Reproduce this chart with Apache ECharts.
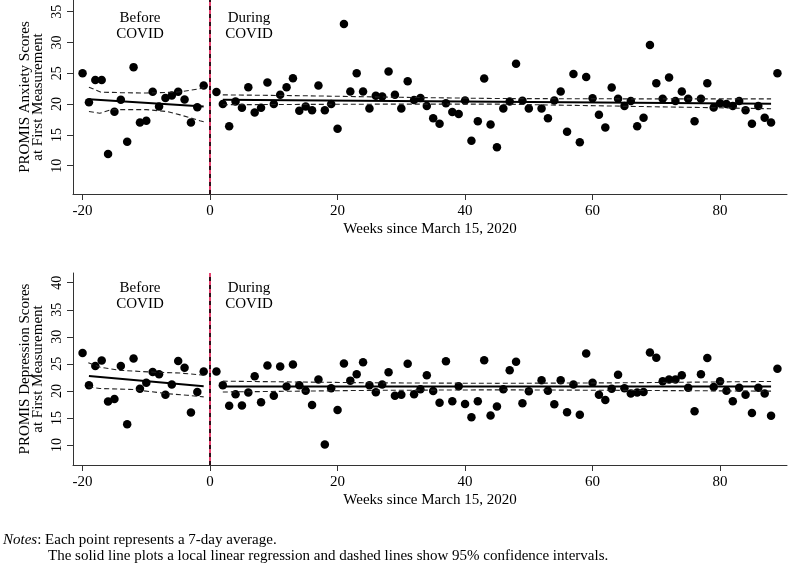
<!DOCTYPE html>
<html>
<head>
<meta charset="utf-8">
<script src="https://cdn.jsdelivr.net/npm/echarts@6/dist/echarts.min.js"></script>
<style>html,body{margin:0;padding:0;background:#fff;}#c{width:790px;height:565px;}</style>
</head>
<body>
<div id="c"></div>
<script>
// ---- DATA ----
const weeksBefore = [-20,-19,-18,-17,-16,-15,-14,-13,-12,-11,-10,-9,-8,-7,-6,-5,-4,-3,-2,-1];
const weeksDuring = [1,2,3,4,5,6,7,8,9,10,11,12,13,14,15,16,17,18,19,20,21,22,23,24,25,26,27,28,29,30,
  31,32,33,34,35,36,37,38,39,40,41,42,43,44,45,46,47,48,49,50,52,53,54,55,56,57,58,59,60,
  61,62,63,64,65,66,67,68,69,70,71,72,73,74,75,76,77,78,79,80,81,82,83,84,85,86,87,88,89];

const anxietyBefore = [25.0,20.3,23.9,23.9,11.9,18.75,20.7,13.9,26.0,17.0,17.3,22.0,19.6,21.0,21.4,22.0,20.75,17.0,19.5,23.0];
const anxietyDuring = [21.95,20.0,16.4,20.4,19.4,22.75,18.65,19.4,23.5,20.0,21.5,22.75,24.2,18.9,19.6,19.0,23.0,19.0,20.0,16.0,
  33.0,22.05,25.0,22.05,19.3,21.35,21.25,25.3,21.5,19.3,23.7,20.65,21.0,19.7,17.7,16.8,20.15,18.7,18.4,20.6,
  14.05,17.2,24.15,16.7,13.0,19.3,20.4,26.55,20.55,19.3,19.3,17.7,20.6,22.05,15.5,24.9,13.8,24.4,20.95,
  18.25,16.2,22.7,20.85,19.7,20.5,16.4,17.8,29.6,23.4,20.85,24.3,20.5,22.05,20.85,17.2,20.85,23.4,19.45,20.15,
  20.0,19.7,20.5,19.0,16.8,19.7,17.8,17.0,25.0];

const depressionBefore = [27.0,21.05,24.6,25.6,18.05,18.5,24.6,13.85,26.0,20.4,21.5,23.5,23.1,19.3,21.2,25.55,24.3,16.0,19.8,23.6];
const depressionDuring = [23.6,21.05,17.25,19.4,17.3,19.7,22.7,17.9,24.7,19.1,24.5,20.8,24.9,21.05,20.05,17.4,22.1,10.1,20.5,16.45,
  25.05,21.9,23.1,25.3,21.05,19.75,21.2,23.45,19.1,19.3,25.0,19.4,20.3,22.9,20.0,17.8,25.5,18.1,20.85,17.6,
  15.15,18.1,25.65,15.45,17.1,20.3,23.8,25.4,17.7,19.95,21.95,20.05,17.55,21.95,16.05,21.2,15.6,26.9,21.5,
  19.3,18.3,20.4,23.0,20.5,19.5,19.7,19.8,27.1,26.15,21.8,22.1,22.1,22.9,20.6,16.25,23.1,26.1,20.7,21.8,
  20.05,18.1,20.6,19.3,15.9,20.6,19.5,15.4,24.1];

// local linear fits and 95% CI
const anxFitBeforeX = [-19,-1];            const anxFitBeforeY = [20.8,19.6];
const anxUpBeforeX = [-19,-17.2,-14,-10,-5,-1.6,-0.9]; const anxUpBeforeY = [22.75,21.95,21.85,21.8,21.95,22.5,22.7];
const anxLoBeforeX = [-19,-17.3,-15.5,-10,-6.8,-4.7,-1.6,-0.9]; const anxLoBeforeY = [18.8,18.5,19.1,19.1,18.8,18.25,17.3,17.1];
const anxFitDuringX = [2,45,88];           const anxFitDuringY = [20.7,20.37,20.05];
const anxUpDuringX = [2,15,30,45,65,88];   const anxUpDuringY = [21.5,21.35,21.1,20.9,20.85,20.85];
const anxLoDuringX = [2,15,30,45,65,88];   const anxLoDuringY = [19.9,19.95,20.0,20.0,19.65,19.25];

const depFitBeforeX = [-19,-1];            const depFitBeforeY = [22.75,20.85];
const depUpBeforeX = [-19.1,-17.3,-14.1,-9.4,-4.7,-1.0]; const depUpBeforeY = [25.2,24.4,23.8,23.5,23.3,22.9];
const depLoBeforeX = [-19.1,-17.3,-12,-6.8,-3.6,-1.0];   const depLoBeforeY = [20.75,20.45,20.25,19.5,19.2,18.9];
const depFitDuringX = [2,88];              const depFitDuringY = [20.8,20.8];
const depUpDuringX = [2,25,45,65,88];      const depUpDuringY = [21.8,21.5,21.4,21.5,21.75];
const depLoDuringX = [2,25,45,65,88];      const depLoDuringY = [19.8,20.1,20.2,20.1,19.95];

const xTicks = [-20,0,20,40,60,80];
const yTicksAnx = [10,15,20,25,30,35];
const yTicksDep = [10,15,20,25,30,35,40];

// ---- BUILD ----
const zip = (xs, ys) => xs.map((x, i) => [x, ys[i]]);
const FONT = '"Liberation Serif", "Times New Roman", serif';
const AX = '#333';

function xAxisCfg(gi) {
  return {
    gridIndex: gi, type: 'value', min: -21.5, max: 90.5,
    axisLine: {show: true, onZero: false, lineStyle: {color: AX, width: 1}},
    axisTick: {show: true, length: 6, customValues: xTicks, lineStyle: {color: AX}},
    axisLabel: {customValues: xTicks, color: '#000', fontFamily: FONT, fontSize: 15, margin: 10},
    splitLine: {show: false},
    name: 'Weeks since March 15, 2020', nameLocation: 'middle', nameGap: 28,
    nameTextStyle: {color: '#000', fontFamily: FONT, fontSize: 15}
  };
}
function yAxisCfg(gi, min, max, ticks) {
  return {
    gridIndex: gi, type: 'value', min: min, max: max,
    axisLine: {show: true, onZero: false, lineStyle: {color: AX, width: 1}},
    axisTick: {show: true, length: 6, customValues: ticks, lineStyle: {color: AX}},
    axisLabel: {customValues: ticks, rotate: 90, color: '#000', fontFamily: FONT, fontSize: 14, margin: 9},
    splitLine: {show: false}
  };
}
function scatter(gi, data, withLine) {
  const s = {
    type: 'scatter', xAxisIndex: gi, yAxisIndex: gi, data: data,
    symbol: 'circle', symbolSize: 8.5, itemStyle: {color: '#000', opacity: 1}, z: 3
  };
  if (withLine) {
    s.markLine = {
      silent: true, symbol: ['none', 'none'], label: {show: false}, animation: false,
      data: [
        {xAxis: 0, lineStyle: {color: '#e3164f', type: 'solid', width: 1.6}},
        {xAxis: 0, lineStyle: {color: '#000', type: [4, 4], width: 1.6}}
      ]
    };
  }
  return s;
}
function line(gi, data, dashed) {
  return {
    type: 'line', xAxisIndex: gi, yAxisIndex: gi, data: data, symbol: 'none', smooth: false,
    lineStyle: dashed ? {color: '#222', width: 1.1, type: [5, 3]} : {color: '#000', width: 2},
    z: 4
  };
}

const chart = echarts.init(document.getElementById('c'));
chart.setOption({
  animation: false,
  backgroundColor: '#fff',
  grid: [
    {left: 73, top: 0, width: 714, height: 194},
    {left: 73, top: 273, width: 714, height: 192}
  ],
  xAxis: [xAxisCfg(0), xAxisCfg(1)],
  yAxis: [yAxisCfg(0, 5.4, 36.9, yTicksAnx), yAxisCfg(1, 6.3, 41.8, yTicksDep)],
  series: [
    scatter(0, zip(weeksBefore, anxietyBefore), true),
    scatter(0, zip(weeksDuring, anxietyDuring), false),
    line(0, zip(anxFitBeforeX, anxFitBeforeY), false),
    line(0, zip(anxUpBeforeX, anxUpBeforeY), true),
    line(0, zip(anxLoBeforeX, anxLoBeforeY), true),
    line(0, zip(anxFitDuringX, anxFitDuringY), false),
    line(0, zip(anxUpDuringX, anxUpDuringY), true),
    line(0, zip(anxLoDuringX, anxLoDuringY), true),
    scatter(1, zip(weeksBefore, depressionBefore), true),
    scatter(1, zip(weeksDuring, depressionDuring), false),
    line(1, zip(depFitBeforeX, depFitBeforeY), false),
    line(1, zip(depUpBeforeX, depUpBeforeY), true),
    line(1, zip(depLoBeforeX, depLoBeforeY), true),
    line(1, zip(depFitDuringX, depFitDuringY), false),
    line(1, zip(depUpDuringX, depUpDuringY), true),
    line(1, zip(depLoDuringX, depLoDuringY), true)
  ],
  graphic: [
    {type: 'text', x: 140, y: 26, style: {text: 'Before\nCOVID', font: '15px ' + FONT, fill: '#000', align: 'center', verticalAlign: 'middle', lineHeight: 16}},
    {type: 'text', x: 249, y: 26, style: {text: 'During\nCOVID', font: '15px ' + FONT, fill: '#000', align: 'center', verticalAlign: 'middle', lineHeight: 16}},
    {type: 'text', x: 140, y: 296, style: {text: 'Before\nCOVID', font: '15px ' + FONT, fill: '#000', align: 'center', verticalAlign: 'middle', lineHeight: 16}},
    {type: 'text', x: 249, y: 296, style: {text: 'During\nCOVID', font: '15px ' + FONT, fill: '#000', align: 'center', verticalAlign: 'middle', lineHeight: 16}},
    {type: 'text', x: 32, y: 97, rotation: Math.PI / 2, style: {text: 'PROMIS Anxiety Scores\nat First Measurement', font: '15px ' + FONT, fill: '#000', align: 'center', verticalAlign: 'middle', lineHeight: 13}},
    {type: 'text', x: 32, y: 369, rotation: Math.PI / 2, style: {text: 'PROMIS Depression Scores\nat First Measurement', font: '15px ' + FONT, fill: '#000', align: 'center', verticalAlign: 'middle', lineHeight: 13}},
    {type: 'text', x: 3, y: 540, style: {text: '{i|Notes}{r|: Each point represents a 7-day average.}', fill: '#000', verticalAlign: 'middle',
      rich: {i: {fontStyle: 'italic', fontFamily: FONT, fontSize: 15, lineHeight: 17, fill: '#000'},
             r: {fontFamily: FONT, fontSize: 15, lineHeight: 17, fill: '#000'}}}},
    {type: 'text', x: 48, y: 556, style: {text: 'The solid line plots a local linear regression and dashed lines show 95% confidence intervals.', font: '15px ' + FONT, fill: '#000', verticalAlign: 'middle'}}
  ]
});
</script>
</body>
</html>
